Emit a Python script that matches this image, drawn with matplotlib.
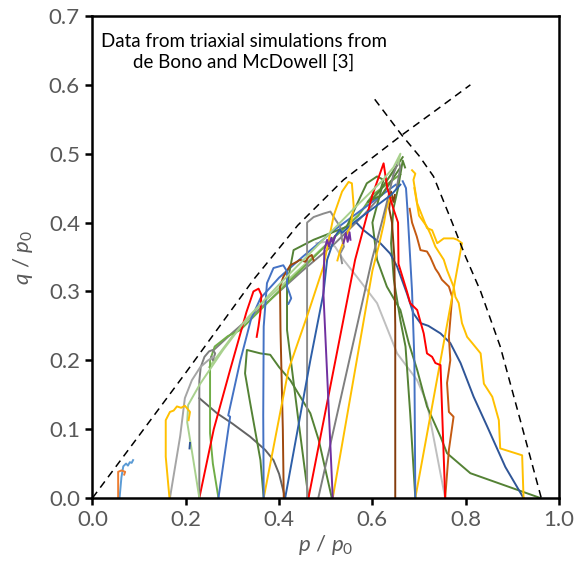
import matplotlib
matplotlib.use("Agg")
import matplotlib.pyplot as plt

plt.rcParams["font.family"] = ["Lato", "DejaVu Sans"]
plt.rcParams["mathtext.fontset"] = "custom"
plt.rcParams["mathtext.it"] = "Lato:italic"
plt.rcParams["mathtext.rm"] = "Lato"

# dashed reference curves
csl_p = [0.0, 0.11, 0.20, 0.345, 0.44, 0.538, 0.663, 0.74, 0.81]
csl_q = [0.0, 0.10, 0.182, 0.317, 0.396, 0.462, 0.527, 0.565, 0.60]
cap_p = [0.605, 0.663, 0.70, 0.731, 0.771, 0.80, 0.832, 0.874, 0.917, 0.962]
cap_q = [0.579, 0.527, 0.497, 0.467, 0.40, 0.35, 0.30, 0.22, 0.113, 0.0]

# stress paths, p/p0 and q/p0
p_orange = [0.055, 0.055, 0.062, 0.07, 0.068]
q_orange = [0.0, 0.038, 0.04, 0.038, 0.034]
p_lblue = [0.058, 0.062, 0.066, 0.072, 0.076, 0.08, 0.084, 0.087]
q_lblue = [0.0, 0.03, 0.046, 0.05, 0.047, 0.052, 0.051, 0.055]
p_yellow1 = [0.165, 0.157, 0.157, 0.166, 0.174, 0.181, 0.19, 0.198, 0.203, 0.209, 0.206]
q_yellow1 = [0.0, 0.06, 0.113, 0.125, 0.127, 0.133, 0.131, 0.134, 0.13, 0.125, 0.113]
p_gray1 = [0.166, 0.188, 0.198, 0.213, 0.231, 0.248, 0.26]
q_gray1 = [0.0, 0.09, 0.145, 0.171, 0.19, 0.2, 0.205]
p_lgreen1 = [0.229, 0.215, 0.203, 0.205, 0.23, 0.28, 0.33, 0.40, 0.48, 0.56, 0.62, 0.645, 0.66, 0.655]
q_lgreen1 = [0.0, 0.06, 0.11, 0.135, 0.165, 0.215, 0.26, 0.31, 0.365, 0.42, 0.46, 0.48, 0.50, 0.485]
p_lgreen2 = [0.25, 0.30, 0.36, 0.424, 0.488, 0.553, 0.61, 0.65]
q_lgreen2 = [0.19, 0.235, 0.28, 0.32, 0.36, 0.40, 0.44, 0.48]
p_bluetick = [0.208, 0.209]
q_bluetick = [0.072, 0.08]
p_gray2 = [0.229, 0.229, 0.232, 0.24, 0.25, 0.258, 0.263, 0.258, 0.255]
q_gray2 = [0.0, 0.17, 0.19, 0.205, 0.213, 0.215, 0.21, 0.2, 0.205]
p_dgray1 = [0.229, 0.267, 0.30, 0.338, 0.37, 0.388, 0.40, 0.413]
q_dgray1 = [0.145, 0.123, 0.108, 0.089, 0.07, 0.055, 0.035, 0.0]
p_dgray2 = [0.26, 0.30, 0.381, 0.45, 0.52, 0.58, 0.62, 0.64]
q_dgray2 = [0.215, 0.24, 0.288, 0.33, 0.37, 0.41, 0.44, 0.46]
p_red1 = [0.229, 0.26, 0.295, 0.33, 0.345, 0.356, 0.362, 0.36, 0.356, 0.352]
q_red1 = [0.0, 0.10, 0.186, 0.27, 0.30, 0.304, 0.295, 0.27, 0.25, 0.234]
p_green1 = [0.27, 0.258, 0.252, 0.252, 0.262, 0.29, 0.317, 0.37, 0.417, 0.46, 0.52, 0.57, 0.60, 0.63, 0.66]
q_green1 = [0.0, 0.05, 0.094, 0.2, 0.22, 0.235, 0.244, 0.28, 0.312, 0.34, 0.38, 0.41, 0.44, 0.455, 0.47]
p_blue1 = [0.27, 0.295, 0.291, 0.317, 0.34, 0.36, 0.40, 0.45, 0.52, 0.58, 0.62, 0.65]
q_blue1 = [0.0, 0.118, 0.12, 0.2, 0.26, 0.29, 0.32, 0.35, 0.39, 0.42, 0.44, 0.455]
p_blue2 = [0.367, 0.366, 0.367, 0.374, 0.388, 0.409, 0.417, 0.417, 0.422, 0.426, 0.42]
q_blue2 = [0.0, 0.12, 0.249, 0.312, 0.334, 0.338, 0.329, 0.307, 0.298, 0.29, 0.282]
p_dgreen1 = [0.367, 0.36, 0.338, 0.327, 0.331, 0.36, 0.381, 0.40, 0.424, 0.467, 0.485, 0.513]
q_dgreen1 = [0.0, 0.055, 0.138, 0.181, 0.215, 0.21, 0.208, 0.19, 0.171, 0.123, 0.084, 0.0]
p_yellow2 = [0.367, 0.42, 0.463, 0.495, 0.517, 0.535, 0.549, 0.556, 0.56, 0.553, 0.542, 0.531, 0.525]
q_yellow2 = [0.0, 0.186, 0.27, 0.336, 0.41, 0.445, 0.459, 0.457, 0.423, 0.394, 0.379, 0.36, 0.345]
p_brown1 = [0.41, 0.408, 0.403, 0.402, 0.409, 0.424, 0.438, 0.445, 0.456, 0.463, 0.47, 0.474]
q_brown1 = [0.0, 0.1, 0.244, 0.307, 0.321, 0.338, 0.343, 0.346, 0.343, 0.35, 0.353, 0.345]
p_blue3 = [0.413, 0.467, 0.495, 0.503, 0.52, 0.53, 0.535, 0.56, 0.60, 0.64, 0.66]
q_blue3 = [0.0, 0.2, 0.297, 0.346, 0.38, 0.39, 0.385, 0.40, 0.42, 0.44, 0.455]
p_gray3 = [0.46, 0.46, 0.46, 0.474, 0.495, 0.51, 0.521, 0.531, 0.535, 0.539, 0.531, 0.535]
q_gray3 = [0.0, 0.2, 0.40, 0.408, 0.413, 0.416, 0.404, 0.394, 0.375, 0.365, 0.355, 0.341]
p_red2 = [0.463, 0.563, 0.60, 0.624, 0.632, 0.645, 0.655, 0.656, 0.665, 0.674, 0.681,
          0.696, 0.71, 0.717, 0.728, 0.735, 0.746, 0.756]
q_red2 = [0.0, 0.346, 0.44, 0.486, 0.45, 0.42, 0.40, 0.34, 0.32, 0.30, 0.283,
          0.273, 0.239, 0.21, 0.205, 0.196, 0.193, 0.0]
p_dgreen2 = [0.463, 0.44, 0.417, 0.417, 0.431, 0.474, 0.545, 0.574, 0.588, 0.61, 0.624,
             0.617, 0.603, 0.59, 0.62, 0.66]
q_dgreen2 = [0.0, 0.12, 0.244, 0.31, 0.36, 0.375, 0.394, 0.437, 0.457, 0.467, 0.462,
             0.447, 0.437, 0.43, 0.44, 0.48]
p_gray4 = [0.484, 0.599, 0.62, 0.635, 0.645, 0.656, 0.66, 0.652]
q_gray4 = [0.0, 0.346, 0.40, 0.44, 0.47, 0.49, 0.48, 0.45]
p_purple1 = [0.515, 0.505, 0.495, 0.497, 0.503, 0.507, 0.512, 0.515, 0.52]
q_purple1 = [0.0, 0.15, 0.297, 0.36, 0.375, 0.365, 0.378, 0.37, 0.38]
p_purple2 = [0.538, 0.543, 0.547, 0.551, 0.553]
q_purple2 = [0.37, 0.385, 0.372, 0.386, 0.375]
p_yellow3 = [0.515, 0.60, 0.615, 0.625, 0.63, 0.64]
q_yellow3 = [0.0, 0.33, 0.37, 0.40, 0.42, 0.44]
p_lgray = [0.48, 0.50, 0.52, 0.538, 0.567, 0.61, 0.653, 0.696, 0.717, 0.756]
q_lgray = [0.37, 0.372, 0.365, 0.346, 0.321, 0.283, 0.21, 0.171, 0.138, 0.0]
p_brown2 = [0.649, 0.649, 0.647, 0.642, 0.636, 0.64, 0.645, 0.648]
q_brown2 = [0.0, 0.25, 0.35, 0.40, 0.42, 0.445, 0.43, 0.44]
p_blue4 = [0.692, 0.69, 0.685, 0.68, 0.675, 0.672, 0.665]
q_blue4 = [0.0, 0.2, 0.3, 0.36, 0.42, 0.45, 0.46]
p_dgreen3 = [0.692, 0.681, 0.671, 0.66, 0.646, 0.64, 0.645, 0.655, 0.665, 0.67]
q_dgreen3 = [0.0, 0.123, 0.22, 0.258, 0.317, 0.37, 0.42, 0.45, 0.49, 0.48]
p_yellow4 = [0.692, 0.792, 0.782, 0.774, 0.753, 0.739, 0.728, 0.717, 0.71, 0.696, 0.688, 0.692, 0.685]
q_yellow4 = [0.0, 0.37, 0.375, 0.377, 0.377, 0.37, 0.389, 0.392, 0.404, 0.428, 0.462, 0.471, 0.476]
p_brown3 = [0.756, 0.764, 0.774, 0.764, 0.76, 0.767, 0.764, 0.771, 0.764, 0.749, 0.742,
            0.735, 0.724, 0.717, 0.703, 0.695, 0.685, 0.68]
q_brown3 = [0.0, 0.07, 0.118, 0.125, 0.167, 0.2, 0.234, 0.292, 0.307, 0.317, 0.326,
            0.333, 0.35, 0.358, 0.36, 0.38, 0.40, 0.42]
p_dblue = [0.924, 0.885, 0.846, 0.817, 0.789, 0.767, 0.746, 0.72, 0.703, 0.688, 0.674,
           0.653, 0.638, 0.617, 0.581, 0.567]
q_dblue = [0.0, 0.045, 0.104, 0.147, 0.196, 0.225, 0.239, 0.25, 0.254, 0.268, 0.297,
           0.336, 0.355, 0.37, 0.389, 0.399]
p_yellow5 = [0.924, 0.921, 0.874, 0.871, 0.857, 0.839, 0.832, 0.814, 0.803, 0.792, 0.785,
             0.778, 0.774, 0.76, 0.753, 0.735, 0.724, 0.717, 0.70, 0.695, 0.69]
q_yellow5 = [0.0, 0.062, 0.072, 0.113, 0.147, 0.166, 0.21, 0.225, 0.234, 0.254, 0.283,
             0.292, 0.307, 0.331, 0.346, 0.365, 0.384, 0.394, 0.41, 0.43, 0.45]
p_green96 = [0.96, 0.81, 0.76, 0.746, 0.717, 0.696, 0.678, 0.66, 0.631, 0.61, 0.60, 0.62, 0.645, 0.665]
q_green96 = [0.0, 0.036, 0.065, 0.089, 0.133, 0.186, 0.225, 0.273, 0.307, 0.346, 0.40, 0.45, 0.475, 0.495]

paths = [
    (p_lgray, q_lgray, "#BFBFBF"),
    (p_dgray1, q_dgray1, "#636363"),
    (p_dgray2, q_dgray2, "#7F7F7F"),
    (p_lgreen2, q_lgreen2, "#A9D18E"),
    (p_green1, q_green1, "#70AD47"),
    (p_blue1, q_blue1, "#4472C4"),
    (p_dgreen1, q_dgreen1, "#548235"),
    (p_dgreen2, q_dgreen2, "#548235"),
    (p_dgreen3, q_dgreen3, "#548235"),
    (p_green96, q_green96, "#548235"),
    (p_dblue, q_dblue, "#2F5597"),
    (p_yellow5, q_yellow5, "#FFC000"),
    (p_brown3, q_brown3, "#C55A11"),
    (p_yellow4, q_yellow4, "#FFC000"),
    (p_blue4, q_blue4, "#4472C4"),
    (p_brown2, q_brown2, "#843C0C"),
    (p_yellow3, q_yellow3, "#FFC000"),
    (p_gray4, q_gray4, "#7F7F7F"),
    (p_red2, q_red2, "#FF0000"),
    (p_gray3, q_gray3, "#8C8C8C"),
    (p_blue3, q_blue3, "#2E5FA8"),
    (p_brown1, q_brown1, "#9E480E"),
    (p_yellow2, q_yellow2, "#FFC000"),
    (p_purple1, q_purple1, "#7030A0"),
    (p_purple2, q_purple2, "#7030A0"),
    (p_blue2, q_blue2, "#4472C4"),
    (p_red1, q_red1, "#FF0000"),
    (p_gray2, q_gray2, "#7F7F7F"),
    (p_gray1, q_gray1, "#A5A5A5"),
    (p_lgreen1, q_lgreen1, "#A9D18E"),
    (p_bluetick, q_bluetick, "#2F5597"),
    (p_yellow1, q_yellow1, "#FFC000"),
    (p_lblue, q_lblue, "#5B9BD5"),
    (p_orange, q_orange, "#ED7D31"),
]

fig = plt.figure(figsize=(5.77, 5.79), dpi=100)
ax = fig.add_axes([0.1603, 0.1399, 0.8085, 0.8325])

for p, q, c in paths:
    ax.plot(p, q, color=c, lw=1.4, solid_joinstyle="round")

ax.plot(csl_p, csl_q, color="black", lw=1.1, dashes=(5, 3.5))
ax.plot(cap_p, cap_q, color="black", lw=1.1, dashes=(5, 3.5))

ax.text(0.325, 0.675, "Data from triaxial simulations from\nde Bono and McDowell [3]",
        ha="center", va="top", multialignment="center", fontsize=13.5,
        linespacing=1.25, color="black")

ax.set_xlim(0, 1.0)
ax.set_ylim(0, 0.7)
ax.set_xticks([0.0, 0.2, 0.4, 0.6, 0.8, 1.0])
ax.set_yticks([0.0, 0.1, 0.2, 0.3, 0.4, 0.5, 0.6, 0.7])
ax.set_xticklabels([f"{v:.1f}" for v in ax.get_xticks()])
ax.set_yticklabels([f"{v:.1f}" for v in ax.get_yticks()])
ax.tick_params(direction="out", length=5, width=1.8, labelsize=16,
               labelcolor="#595959", color="black", pad=4)
for s in ax.spines.values():
    s.set_linewidth(1.8)
    s.set_color("black")

ax.set_xlabel(r"$p$ / $p_\mathrm{0}$", fontsize=16, color="#595959", labelpad=2)
ax.set_ylabel(r"$q$ / $p_\mathrm{0}$", fontsize=16, color="#595959", labelpad=10)

fig.savefig("out.png", dpi=100)
